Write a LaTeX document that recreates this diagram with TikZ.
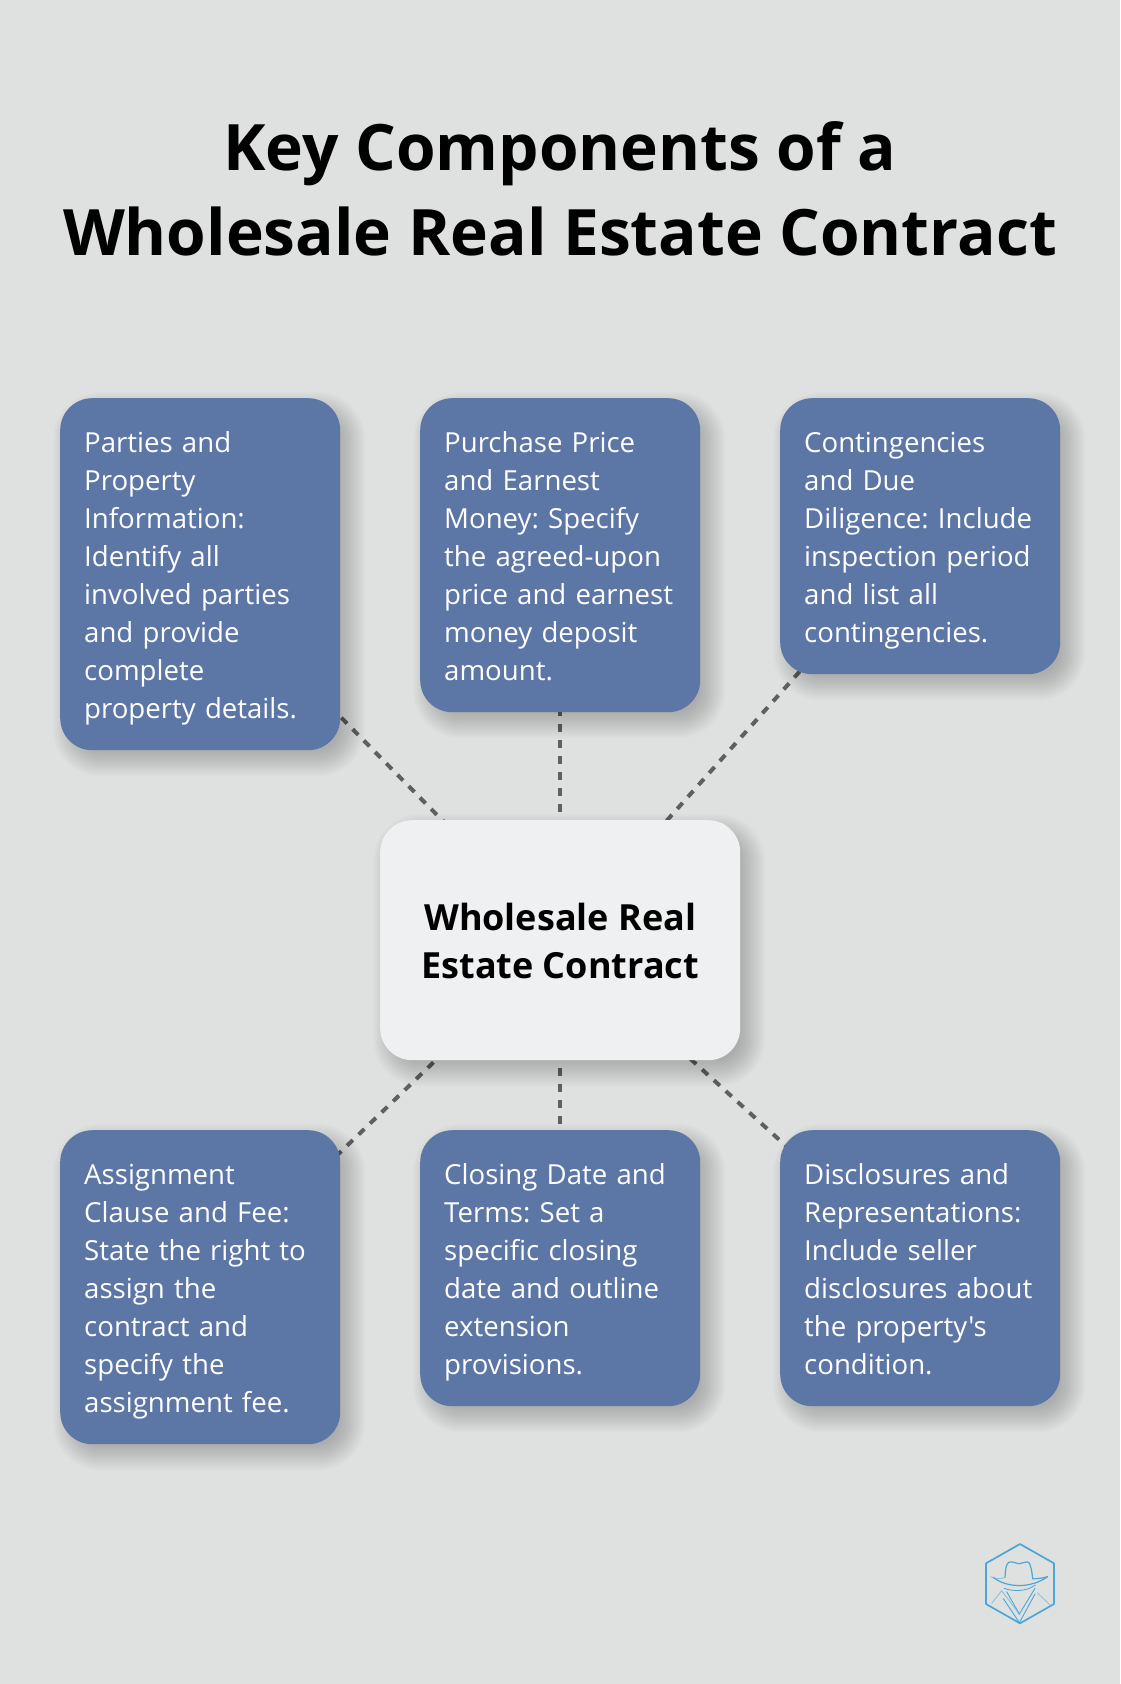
\documentclass[tikz,border=0pt]{standalone}
\usepackage{fontspec}
\newfontfamily\opensans{Open Sans}
\pgfdeclarelayer{lines}
\pgfdeclarelayer{shadow}
\pgfsetlayers{lines,shadow,main}
\definecolor{bgc}{HTML}{DEE1E0}
\definecolor{boxc}{HTML}{5C76A6}
\definecolor{hubc}{HTML}{EFF0F2}
\definecolor{dashc}{HTML}{5F5F5F}
\definecolor{logoc}{HTML}{4DA6D9}
\newcommand{\lsa}{\rule[-7.4pt]{0pt}{38pt}}
\newcommand{\lsb}{\rule[-10pt]{0pt}{48pt}}
\newcommand{\softshadow}[1]{%
  \foreach \s in {16,14,...,-10}{%
    \pgfmathsetmacro{\rr}{max(32+\s,4)}%
    \fill[black,opacity=0.016,rounded corners=\rr pt]
      ([xshift=9pt-\s pt,yshift=-10pt+\s pt]#1.north west) rectangle
      ([xshift=9pt+\s pt,yshift=-10pt-\s pt]#1.south east);
  }%
}
\tikzset{
  x=1pt,y=-1pt,
  infobox/.style={draw=none,fill=boxc,rounded corners=32pt,anchor=north west,
    text=white,align=left,inner xsep=24pt,inner ysep=0pt,
    text width=232pt,minimum width=280pt,
    font=\opensans\frenchspacing\fontsize{27.6}{38}\selectfont},
  hubbox/.style={draw=none,fill=hubc,rounded corners=32pt,anchor=north west,
    text=black,align=center,inner sep=0pt,minimum width=360pt,minimum height=240pt,
    font=\opensans\bfseries\fontsize{36}{48}\selectfont},
  titletext/.style={text=black,align=center,inner sep=0pt,
    font=\opensans\bfseries\fontsize{64}{85}\selectfont},
  link/.style={draw=dashc,line width=4pt,dash pattern=on 8pt off 8pt},
  logoline/.style={draw=logoc,line width=1.7pt,line join=round,line cap=round},
  logofaint/.style={draw=logoc!55!bgc,line width=0.9pt,line join=round,line cap=round},
}
\begin{document}
\begin{tikzpicture}
\useasboundingbox (0,0) rectangle (1120,1684);
\begin{pgfonlayer}{lines}
\fill[bgc] (0,0) rectangle (1120,1684);
\end{pgfonlayer}

\node[titletext] (title) at (560,189.5) {\rule[-19pt]{0pt}{85pt}Key Components of a\\\rule[-19pt]{0pt}{85pt}Wholesale Real Estate Contract};

\node[infobox,minimum height=352pt] (b1) at (60,398) {\lsa Parties and\\Property\\Information:\\Identify all\\involved parties\\and provide\\complete\\property details.\lsa};
\node[infobox,minimum height=314pt] (b2) at (420,398) {\lsa Purchase Price\\and Earnest\\Money: Specify\\the agreed-upon\\price and earnest\\money deposit\\amount.\lsa};
\node[infobox,minimum height=276pt] (b3) at (780,398) {\lsa Contingencies\\and Due\\Diligence: Include\\inspection period\\and list all\\contingencies.\lsa};
\node[hubbox] (hub) at (380,820) {\lsb Wholesale Real\\Estate Contract\lsb};
\node[infobox,minimum height=314pt] (b4) at (60,1130) {\lsa Assignment\\Clause and Fee:\\State the right to\\assign the\\contract and\\specify the\\assignment fee.\lsa};
\node[infobox,minimum height=276pt] (b5) at (420,1130) {\lsa Closing Date and\\Terms: Set a\\specific closing\\date and outline\\extension\\provisions.\lsa};
\node[infobox,minimum height=276pt] (b6) at (780,1130) {\lsa Disclosures and\\Representations:\\Include seller\\disclosures about\\the property's\\condition.\lsa};

\begin{pgfonlayer}{shadow}
\softshadow{b1}\softshadow{b2}\softshadow{b3}\softshadow{hub}\softshadow{b4}\softshadow{b5}\softshadow{b6}
\end{pgfonlayer}
\begin{pgfonlayer}{lines}
\foreach \n in {b1,b2,b3,b4,b5,b6}{
  \draw[link] (hub.center) -- (\n.center);
}
\end{pgfonlayer}

% logo
\begin{scope}[shift={(960,1520)},x=0.3333pt,y=-0.3333pt]
\draw[logoline] (180,72) -- (282,130) -- (282,252) -- (180,310) -- (78,252) -- (78,130) -- cycle;
\draw[logoline,line width=1.2pt] (135,172) .. controls (136,150) and (138,132) .. (146,127)
  .. controls (158,122) and (170,132) .. (180,131)
  .. controls (190,130) and (200,122) .. (207,128)
  .. controls (213,138) and (216,155) .. (218,176);
\draw[logofaint] (92,170) .. controls (110,180) and (125,176) .. (135,172);
\draw[logoline,line width=1.2pt] (100,172) .. controls (140,205) and (215,205) .. (263,170)
  .. controls (245,175) and (232,176) .. (218,176);
\draw[logoline,line width=0.8pt] (132,205) .. controls (160,215) and (200,215) .. (226,195);
\draw[logofaint] (95,250) -- (125,212) -- (180,285);
\draw[logoline,line width=0.9pt] (140,215) -- (178,282) -- (225,205);
\draw[logofaint] (232,218) -- (270,255);
\draw[logoline,line width=0.9pt] (130,236) -- (178,308) -- (225,222);
\end{scope}
\end{tikzpicture}
\end{document}
